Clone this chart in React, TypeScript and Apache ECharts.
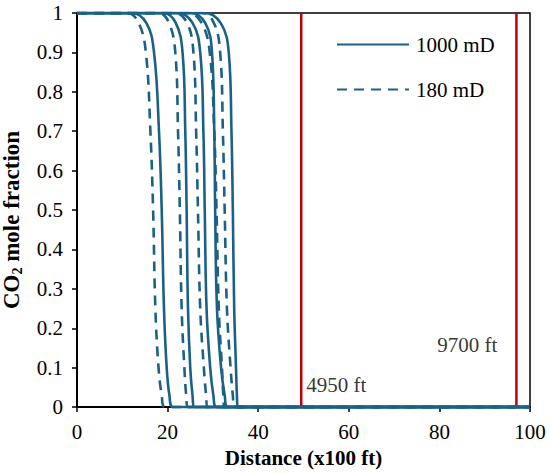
import React, { useEffect, useRef } from "react";
import * as echarts from "echarts";

// Front profiles: x position (x100 ft) at each CO2 mole fraction level
const yLevels = [1, 0.975, 0.9, 0.7, 0.5, 0.25, 0.1, 0.03, 0];

const solid1 = [12, 15.3, 17.0, 18.1, 18.7, 19.2, 19.8, 20.4, 21.2];
const solid2 = [19, 21.8, 23.3, 23.9, 24.2, 24.5, 25.0, 25.5, 26.0];
const solid3 = [22, 25.5, 27.2, 27.9, 28.2, 28.6, 29.4, 30.1, 30.8];
const solid4 = [25, 28.3, 29.8, 30.3, 30.5, 30.9, 31.8, 32.6, 33.3];
const solid5 = [28, 31.7, 33.5, 34.1, 34.4, 34.7, 35.1, 35.3, 35.5];

const dashed1 = [11, 13.6, 15.2, 16.2, 16.8, 17.3, 18.0, 18.7, 19.4];
const dashed2 = [18, 20.3, 21.7, 22.3, 22.7, 23.1, 23.7, 24.1, 24.5];
const dashed3 = [21.5, 24.3, 25.7, 26.3, 26.7, 27.2, 28.0, 28.5, 28.9];
const dashed4 = [24.5, 27.5, 29.3, 30.3, 30.8, 31.3, 32.0, 32.3, 32.6];
const dashed5 = [27.5, 30.2, 31.6, 32.2, 32.6, 33.1, 33.9, 34.4, 34.8];

const solidCurves = [solid1, solid2, solid3, solid4, solid5];
const dashedCurves = [dashed1, dashed2, dashed3, dashed4, dashed5];

const legendNames = ["1000 mD", "180 mD"];

const boundaryX = [49.5, 97];
const boundaryLabels = ["4950 ft", "9700 ft"];
const boundaryLabelAnchors = [
  [50.5, 0.056],
  [79.4, 0.157],
];

const xTicks = { min: 0, max: 100, interval: 20 };
const yTicks = { min: 0, max: 1, interval: 0.1 };

const BLUE = "#1b6185";
const RED = "#c00000";
const FONT = "'Liberation Serif', 'Times New Roman', serif";
const FS = 21;

function buildCurve(xs: number[]) {
  const pts: number[][] = [[0, 1]];
  xs.forEach((x, i) => pts.push([x, yLevels[i]]));
  pts.push([100, 0]);
  return pts;
}

export default function App() {
  const ref = useRef<HTMLDivElement>(null);
  useEffect(() => {
    if (!ref.current) return;
    const chart = echarts.init(ref.current, undefined, { renderer: "svg" });
    const series: any[] = [];
    boundaryX.forEach((bx) => {
      series.push({
        type: "line",
        data: [
          [bx, 0],
          [bx, 1],
        ],
        symbol: "none",
        lineStyle: { color: RED, width: 2.5 },
        z: 1,
        silent: true,
      });
    });
    solidCurves.forEach((c) => {
      series.push({
        name: legendNames[0],
        type: "line",
        data: buildCurve(c),
        symbol: "none",
        smooth: 0.4,
        lineStyle: { color: BLUE, width: 2.6 },
        itemStyle: { color: BLUE, opacity: 0 },
        z: 3,
      });
    });
    dashedCurves.forEach((c) => {
      series.push({
        name: legendNames[1],
        type: "line",
        data: buildCurve(c),
        symbol: "none",
        smooth: 0.4,
        lineStyle: { color: BLUE, width: 2.6, type: [10, 7] },
        itemStyle: { color: BLUE, opacity: 0 },
        z: 3,
      });
    });
    series.push({
      type: "scatter",
      data: boundaryLabelAnchors.map((p, i) => ({ value: p, name: boundaryLabels[i] })),
      symbolSize: 1,
      itemStyle: { color: "rgba(0,0,0,0)" },
      label: {
        show: true,
        position: "right",
        distance: 0,
        formatter: (p: any) => p.name,
        fontFamily: FONT,
        fontSize: FS,
        color: "#000",
      },
      silent: true,
      z: 4,
    });

    chart.setOption({
      animation: false,
      grid: {
        left: 77,
        right: 20,
        top: 13,
        bottom: 64,
        show: true,
        borderColor: "#000",
        borderWidth: 1.5,
        backgroundColor: "transparent",
      },
      legend: {
        data: legendNames,
        orient: "vertical",
        left: 331,
        top: 29,
        itemWidth: 72,
        itemHeight: 14,
        itemGap: 24,
        itemStyle: { opacity: 0 },
        textStyle: { fontFamily: FONT, fontSize: FS, color: "#000", padding: [0, 0, 0, 2] },
        selectedMode: false,
      },
      graphic: [
        {
          type: "text",
          x: 11,
          y: 220,
          rotation: Math.PI / 2,
          style: {
            text: "{b|CO}{s|2}{b| mole fraction}",
            align: "center",
            verticalAlign: "middle",
            fill: "#000",
            rich: {
              b: { fontFamily: FONT, fontSize: 23, fontWeight: "bold", fill: "#000", lineHeight: 26, verticalAlign: "middle" },
              s: { fontFamily: FONT, fontSize: 14, fontWeight: "bold", fill: "#000", lineHeight: 14, verticalAlign: "bottom" },
            },
          },
        },
      ],
      xAxis: {
        type: "value",
        min: xTicks.min,
        max: xTicks.max,
        interval: xTicks.interval,
        name: "Distance (x100 ft)",
        nameLocation: "middle",
        nameGap: 38,
        nameTextStyle: { fontFamily: FONT, fontSize: FS, fontWeight: "bold", color: "#000" },
        axisLine: { lineStyle: { color: "#000", width: 2 } },
        axisTick: { show: true, length: 5, lineStyle: { color: "#000", width: 1.5 } },
        axisLabel: { fontFamily: FONT, fontSize: FS, color: "#000", margin: 14 },
        splitLine: { show: false },
      },
      yAxis: {
        type: "value",
        min: yTicks.min,
        max: yTicks.max,
        interval: yTicks.interval,
        axisLine: { lineStyle: { color: "#000", width: 2 } },
        axisTick: { show: true, length: 5, lineStyle: { color: "#000", width: 1.5 } },
        axisLabel: { fontFamily: FONT, fontSize: FS, color: "#000", margin: 14 },
        splitLine: { show: false },
      },
      series,
    });
    return () => chart.dispose();
  }, []);
  return (
    <div
      ref={ref}
      style={{ position: "fixed", left: 0, top: 0, width: 550, height: 473, background: "#fff" }}
    />
  );
}
